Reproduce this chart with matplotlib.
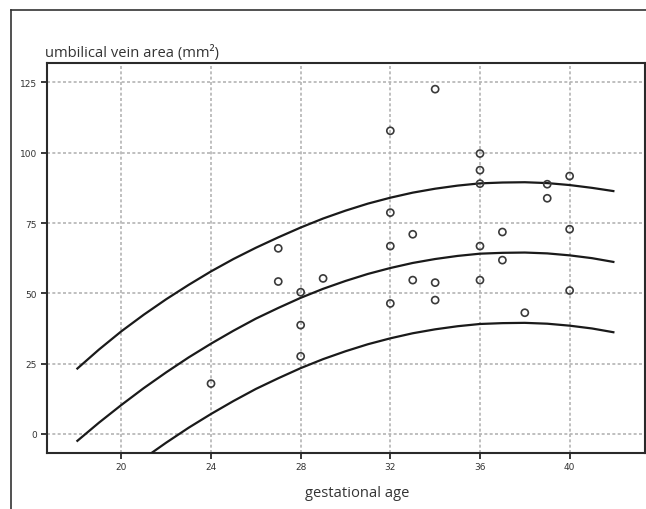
import matplotlib
matplotlib.use("Agg")
import matplotlib.pyplot as plt
from matplotlib.lines import Line2D

# ---- data ----
ages = [24, 27, 27, 28, 28, 28, 29, 32, 32, 32, 32, 33, 33, 34, 34, 34,
        36, 36, 36, 36, 36, 37, 37, 38, 39, 39, 40, 40, 40]
areas = [17.9, 66.0, 54.2, 50.4, 38.7, 27.6, 55.3, 107.8, 78.7, 66.8, 46.4, 71.0, 54.7, 122.6, 53.8, 47.6,
         99.7, 93.8, 89.0, 66.8, 54.7, 71.8, 61.8, 43.1, 88.8, 83.8, 91.7, 72.8, 51.0]

curve_x = [18, 19, 20, 21, 22, 23, 24, 25, 26, 27, 28, 29, 30,
           31, 32, 33, 34, 35, 36, 37, 38, 39, 40, 41, 42]
upper_curve = [23.0, 30.0, 36.5, 42.4, 47.9, 53.0, 57.8, 62.2, 66.2, 69.9, 73.4, 76.6, 79.4,
               81.9, 84.0, 85.8, 87.2, 88.3, 89.1, 89.4, 89.5, 89.2, 88.5, 87.5, 86.3]
middle_curve = [-2.7, 4.0, 10.3, 16.3, 21.9, 27.2, 32.1, 36.7, 41.0, 44.8, 48.4, 51.6, 54.4,
                56.9, 59.0, 60.8, 62.2, 63.3, 64.1, 64.4, 64.5, 64.2, 63.5, 62.5, 61.1]
lower_curve = [None, None, None, -8.7, -3.1, 2.2, 7.1, 11.7, 16.0, 19.8, 23.4, 26.6, 29.4,
               31.9, 34.0, 35.8, 37.2, 38.3, 39.1, 39.4, 39.5, 39.2, 38.5, 37.5, 36.1]

x_ticks = [20, 24, 28, 32, 36, 40]
y_ticks = [0, 25, 50, 75, 100, 125]

W, H = 646, 510
fig = plt.figure(figsize=(W / 100, H / 100), dpi=100)
fig.patch.set_facecolor("white")

ax = fig.add_axes([46.5 / W, 1 - 453.5 / H, (644.5 - 46.5) / W, (453.5 - 64) / H])
ax.set_xlim(16.66, 43.34)
ax.set_ylim(-6.6, 131.9)

grid_kw = dict(color="#b4b4b4", linewidth=1.2, linestyle=(0, (1.8, 1.4)), zorder=0)
ax.set_xticks(x_ticks)
ax.set_yticks(y_ticks)
ax.set_xticklabels([str(t) for t in x_ticks])
ax.set_yticklabels([str(t) for t in y_ticks])
ax.grid(True, **grid_kw)

for xs, ys in [(curve_x, upper_curve), (curve_x, middle_curve), (curve_x, lower_curve)]:
    px = [a for a, b in zip(xs, ys) if b is not None]
    py = [b for b in ys if b is not None]
    ax.plot(px, py, color="#1a1a1a", linewidth=1.6, zorder=3, solid_capstyle="butt")

ax.scatter(ages, areas, s=26, facecolors="none", edgecolors="#3a3a3a", linewidths=1.2, zorder=4)

for sp in ax.spines.values():
    sp.set_color("#2a2a2a")
    sp.set_linewidth(1.5)

ax.tick_params(axis="both", direction="out", length=4, width=1.3, color="#2a2a2a",
               labelsize=6.5, labelcolor="#333333", pad=3)

fig.text(45 / W, 1 - 57 / H, "umbilical vein area (mm\u00b2)", fontsize=10.6,
         family="Open Sans", color="#333333", ha="left", va="baseline")
fig.text(357 / W, 1 - 497 / H, "gestational age", fontsize=10.6,
         family="Open Sans", color="#333333", ha="center", va="baseline")

# outer frame (top and left lines)
fig.add_artist(Line2D([11 / W, 11 / W], [0, 1 - 11 / H], transform=fig.transFigure,
                      color="#333333", linewidth=1.2))
fig.add_artist(Line2D([11 / W, 1], [1 - 11 / H, 1 - 11 / H], transform=fig.transFigure,
                      color="#333333", linewidth=1.2))

fig.savefig("out.png", dpi=100, facecolor="white")
